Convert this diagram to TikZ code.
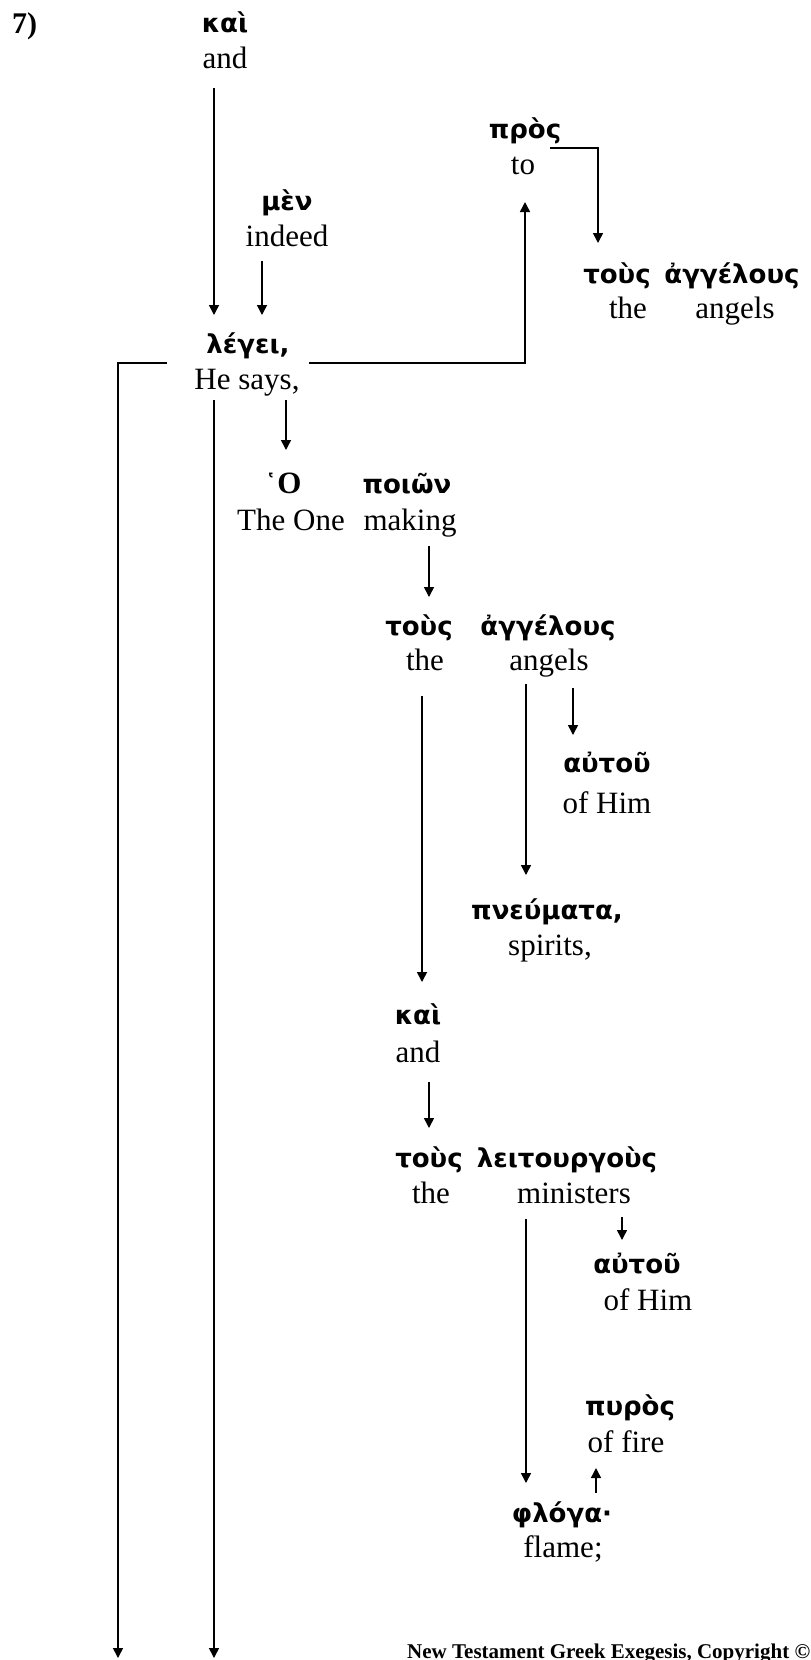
\documentclass[tikz,border=0pt]{standalone}
\usepackage{fontspec}
\setmainfont{Liberation Serif}
\newfontfamily\gkfont{DejaVu Sans}
\usetikzlibrary{arrows.meta}
\tikzset{
  gk/.style={anchor=base, inner sep=0pt, font=\gkfont\bfseries\fontsize{26}{30}\selectfont},
  en/.style={anchor=base, inner sep=0pt, font=\fontsize{31}{36}\selectfont},
  arr/.style={line width=1.5pt, -{Triangle[width=10pt,length=10pt]}},
  ln/.style={line width=1.5pt}
}
\begin{document}
\begin{tikzpicture}[x=1pt, y=-1pt]
\fill[white] (0,0) rectangle (811,1660);
\useasboundingbox (0,0) rectangle (811,1660);

\node[anchor=base west, inner sep=0pt, font=\bfseries\fontsize{30}{36}\selectfont] (num) at (12,33) {7)};

\node[gk] (kai1) at (225,32) {καὶ};
\node[en] (and1) at (225,68) {and};
\node[gk] (men) at (287,210) {μὲν};
\node[en] (indeed) at (287,246) {indeed};
\node[gk] (lege) at (248,353) {λέγει,};
\node[en] (hesays) at (247,389) {He says,};

\node[gk] (pros) at (525,138) {πρὸς};
\node[en] (to) at (523,174) {to};
\node[gk] (tous1) at (617,283) {τοὺς};
\node[gk] (angel1) at (732,283) {ἀγγέλους};
\node[en] (the1) at (628,318) {the};
\node[en] (angels1) at (735,318) {angels};

\node[en] (ho) at (283,493) {{\gkfont\bfseries\fontsize{26}{30}\selectfont ῾}\textbf{O}};
\node[gk] (poion) at (407,493) {ποιῶν};
\node[en] (theone) at (291,530) {The One};
\node[en] (making) at (410,530) {making};

\node[gk] (tous2) at (419,635) {τοὺς};
\node[gk] (angel2) at (548,635) {ἀγγέλους};
\node[en] (the2) at (425,670) {the};
\node[en] (angels2) at (549,670) {angels};

\node[gk] (autou1) at (607,772) {αὐτοῦ};
\node[en] (ofhim1) at (607,813) {of Him};

\node[gk] (pneumata) at (547,919) {πνεύματα,};
\node[en] (spirits) at (550,955) {spirits,};

\node[gk] (kai2) at (418,1024) {καὶ};
\node[en] (and2) at (418,1062) {and};

\node[gk] (tous3) at (429,1167) {τοὺς};
\node[gk] (leit) at (567,1167) {λειτουργοὺς};
\node[en] (the3) at (431,1203) {the};
\node[en] (ministers) at (574,1203) {ministers};

\node[gk] (autou2) at (637,1273) {αὐτοῦ};
\node[en] (ofhim2) at (648,1310) {of Him};

\node[gk] (pyros) at (630,1415) {πυρὸς};
\node[en] (offire) at (626,1452) {of fire};

\node[gk] (phloga) at (562,1522) {φλόγα·};
\node[en] (flame) at (563,1557) {flame;};

\node[anchor=base west, inner sep=0pt, font=\bfseries\fontsize{21}{25}\selectfont] (foot) at (407,1658) {New Testament Greek Exegesis, Copyright ©};

\coordinate (lbot) at (118,1658);
\coordinate (mbot) at (214,1658);

% connectors
\draw[arr] ([shift={(-11,20)}]and1.base) -- ([shift={(-34,-38)}]lege.base);
\draw[arr] ([shift={(-25,15)}]indeed.base) -- ([shift={(14,-38)}]lege.base);
\draw[arr] ([shift={(-80,-26)}]hesays.base) -| (lbot);
\draw[arr] ([shift={(62,-26)}]hesays.base) -| ([shift={(2,28)}]to.base);
\draw[arr] ([shift={(27,-26)}]to.base) -| ([shift={(-19,-40)}]tous1.base);
\draw[arr] ([shift={(-33,11)}]hesays.base) -- (mbot);
\draw[arr] ([shift={(39,11)}]hesays.base) -- ([shift={(3,-43)}]ho.base);
\draw[arr] ([shift={(19,16)}]making.base) -- ([shift={(10,-38)}]tous2.base);
\draw[arr] ([shift={(-3,26)}]the2.base) -- ([shift={(4,-42)}]kai2.base);
\draw[arr] ([shift={(-23,14)}]angels2.base) -- ([shift={(-21,-44)}]pneumata.base);
\draw[arr] ([shift={(24,18)}]angels2.base) -- ([shift={(-34,-37)}]autou1.base);
\draw[arr] ([shift={(11,20)}]and2.base) -- ([shift={(0,-39)}]tous3.base);
\draw[arr] ([shift={(-48,16)}]ministers.base) -- ([shift={(-36,-39)}]phloga.base);
\draw[arr] ([shift={(48,14)}]ministers.base) -- ([shift={(-15,-33)}]autou2.base);
\draw[arr] ([shift={(34,-29)}]phloga.base) -- ([shift={(-30,16)}]offire.base);
\end{tikzpicture}
\end{document}
